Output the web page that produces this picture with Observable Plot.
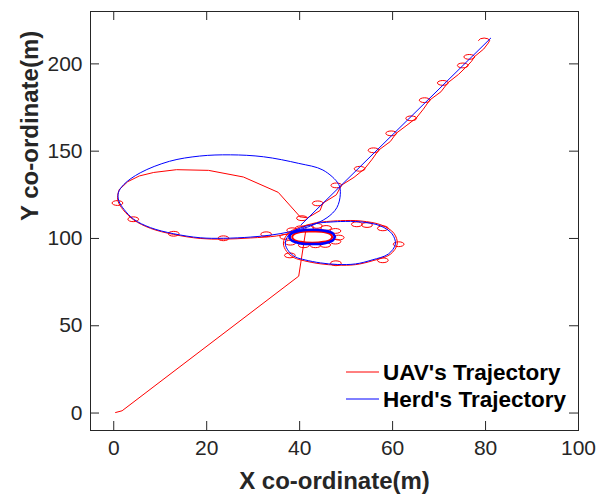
<!DOCTYPE html>
<html>
<head>
<meta charset="utf-8">
<script src="https://cdn.jsdelivr.net/npm/d3@7"></script>
<script src="https://cdn.jsdelivr.net/npm/@observablehq/plot@0.6"></script>
<style>
  html, body { margin: 0; padding: 0; background: #fff; }
  #chart { width: 596px; height: 495px; }
</style>
</head>
<body>
<div id="chart"></div>
<script>
// Axis ticks
const xTicks = [0, 20, 40, 60, 80, 100];
const yTicks = [0, 50, 100, 150, 200];

// Herd trajectory (m)
const herdSmallLoop = [
  [47.6, 100.9], [47.1, 103.0], [45.4, 104.4], [42.7, 105.0], [40.0, 104.4], [38.3, 103.0],
  [37.8, 100.9], [38.3, 98.8], [40.0, 97.3], [42.7, 96.8], [45.4, 97.3], [47.1, 98.8], [47.6, 100.9]
];
const herdRightLoop = [
  [44.0, 108.9], [40.2, 106.0], [38.0, 103.1], [36.9, 97.4], [37.6, 92.8], [39.1, 89.4],
  [41.2, 87.7], [44.5, 86.0], [48.1, 85.1], [52.0, 85.4], [55.6, 87.7], [59.1, 91.1],
  [60.6, 96.8], [59.9, 102.6], [57.4, 107.2], [53.1, 109.5], [48.8, 109.7], [44.0, 108.9]
];
const herdBigLoop = [
  [40.5, 105.5], [37.5, 103.6], [34.0, 102.0], [29.5, 100.8], [23.6, 100.1], [18.6, 100.4],
  [12.9, 102.7], [7.9, 106.2], [4.3, 111.0], [2.2, 116.7], [1.1, 121.5], [1.0, 126.2],
  [2.2, 131.0], [5.7, 137.6], [12.0, 144.2], [18.5, 147.2], [25.1, 147.9], [32.2, 146.8],
  [39.8, 143.0], [45.0, 139.2], [48.4, 131.0], [48.75, 125.3], [48.0, 117.6], [45.9, 111.9],
  [42.3, 107.1], [40.5, 105.5]
];
const herdLine = [[40.3, 107.8], [81.1, 214.7]];

// UAV trajectory (m)
const uavApproach = [[0.4, 0.3], [1.8, 1.3], [39.8, 78.4], [41.3, 104.2]];
const uavSmallLoop = [
  [42.7, 104.2], [45.1, 103.7], [46.6, 102.5], [47.0, 100.9], [46.6, 99.3], [45.1, 98.1],
  [42.7, 97.6], [40.3, 98.1], [38.8, 99.3], [38.4, 100.9], [38.8, 102.5], [40.3, 103.7], [42.7, 104.2]
];
const uavRightLoop = [
  [44.0, 109.3], [40.0, 106.4], [37.6, 103.2], [36.5, 97.4], [37.2, 92.5], [38.8, 89.0],
  [41.0, 87.2], [44.4, 85.5], [48.1, 84.7], [52.0, 85.0], [55.8, 87.3], [59.5, 90.9],
  [61.0, 96.8], [60.3, 102.9], [57.7, 107.6], [53.2, 110.0], [48.8, 110.2], [44.0, 109.3]
];
const uavBigLoop = [
  [38.5, 103.4], [35.0, 101.4], [29.5, 100.3], [23.6, 99.6], [18.6, 100.0], [12.9, 102.3],
  [7.9, 105.8], [4.3, 110.6], [2.0, 116.5], [0.9, 121.5], [0.9, 125.5], [1.2, 128.0]
];
const uavShortcut = [
  [1.2, 128.0], [3.0, 132.5], [5.5, 135.8], [8.6, 137.8], [13.5, 139.4], [20.4, 139.0],
  [27.9, 135.2], [35.4, 126.4], [40.1, 112.4]
];
const uavLine = [
  [40.1, 112.4], [41.7, 111.8], [44.4, 116.0], [45.0, 120.2], [47.9, 125.0], [49.0, 130.5],
  [51.7, 135.0], [54.0, 140.0], [55.5, 145.0], [57.0, 150.6], [59.5, 155.5], [60.8, 160.3],
  [62.9, 164.5], [65.1, 169.0], [66.6, 174.0], [68.0, 179.3], [70.4, 184.0], [71.9, 189.2],
  [74.2, 194.0], [76.2, 199.2], [77.0, 201.5], [77.6, 204.1], [79.6, 208.5], [80.6, 212.0],
  [80.9, 213.4], [80.5, 214.4], [79.7, 214.8], [78.9, 214.4], [78.5, 213.4]
];

// UAV loiter circles (centres, m)
const loiterSmallLoop = [
  [38.4, 104.7], [40.2, 105.8], [41.9, 106.2], [43.7, 107.2], [45.7, 106.0], [47.7, 104.3],
  [48.4, 100.5], [47.7, 98.2], [45.5, 96.3], [43.4, 96.1], [40.9, 96.1], [38.0, 97.6], [36.9, 100.9]
];
const loiterRightLoop = [
  [52.3, 108.1], [54.5, 107.7], [57.9, 105.8], [61.3, 96.7], [57.9, 87.5], [47.8, 85.8], [37.9, 90.3]
];
const loiterBigLoop = [[0.8, 120.3], [4.2, 111.0], [12.9, 102.7], [23.6, 100.1], [32.8, 102.4]];
const loiterLine = [
  [40.5, 111.6], [43.9, 120.1], [47.9, 130.4], [52.9, 139.9], [55.9, 150.5], [59.7, 160.2],
  [64.0, 168.8], [66.9, 179.2], [70.8, 189.1], [75.1, 199.1], [76.5, 204.0]
];

const seriesNames = ["UAV's Trajectory", "Herd's Trajectory"];
const uavColor = "#ff0000";
const herdColor = "#0000ff";
const ink = "#262626";
const font = "'Liberation Sans', Arial, Helvetica, sans-serif";

const W = 596, H = 495;
const margin = {top: 11, right: 18, bottom: 65, left: 90};
const frameW = W - margin.left - margin.right;
const frameH = H - margin.top - margin.bottom;
const tickLen = 9;

// Small horizontal ellipse drawn at each loiter centre
const loiterSymbol = {
  draw(context) {
    const rx = 5.4, ry = 2.4, k = 0.5523;
    context.moveTo(rx, 0);
    context.bezierCurveTo(rx, ry * k, rx * k, ry, 0, ry);
    context.bezierCurveTo(-rx * k, ry, -rx, ry * k, -rx, 0);
    context.bezierCurveTo(-rx, -ry * k, -rx * k, -ry, 0, -ry);
    context.bezierCurveTo(rx * k, -ry, rx, -ry * k, rx, 0);
    context.closePath();
  }
};

const X = d => d[0], Y = d => d[1];
const path = (data, stroke, extra = {}) =>
  Plot.line(data, {x: X, y: Y, stroke, strokeWidth: 1, ...extra});
const loiter = data =>
  Plot.dot(data, {x: X, y: Y, symbol: loiterSymbol, stroke: uavColor, fill: "none", strokeWidth: 1});

const chart = Plot.plot({
  width: W,
  height: H,
  marginTop: margin.top,
  marginRight: margin.right,
  marginBottom: margin.bottom,
  marginLeft: margin.left,
  style: {fontFamily: font, color: ink, background: "#fff", overflow: "visible"},
  x: {domain: [-5, 100]},
  y: {domain: [-10, 230]},
  marks: [
    // UAV path
    path(uavApproach, uavColor),
    path(uavSmallLoop, uavColor, {curve: "catmull-rom", strokeWidth: 2}),
    path(uavRightLoop, uavColor, {curve: "catmull-rom"}),
    path(uavBigLoop, uavColor, {curve: "catmull-rom"}),
    path(uavShortcut, uavColor),
    path(uavLine, uavColor),
    loiter(loiterSmallLoop),
    loiter(loiterRightLoop),
    loiter(loiterBigLoop),
    loiter(loiterLine),
    // Herd path
    path(herdSmallLoop, herdColor, {curve: "catmull-rom", strokeWidth: 2.6}),
    path(herdRightLoop, herdColor, {curve: "catmull-rom"}),
    path(herdBigLoop, herdColor, {curve: "catmull-rom"}),
    path(herdLine, herdColor),
    // Box and inward ticks on all four sides
    Plot.frame({stroke: ink, strokeWidth: 1}),
    Plot.ruleX(xTicks, {stroke: ink, insetTop: frameH - tickLen}),
    Plot.ruleX(xTicks, {stroke: ink, insetBottom: frameH - tickLen}),
    Plot.ruleY(yTicks, {stroke: ink, insetRight: frameW - tickLen}),
    Plot.ruleY(yTicks, {stroke: ink, insetLeft: frameW - tickLen}),
    Plot.axisX({ticks: xTicks, tickSize: 0, tickPadding: 10, fontSize: 21, label: null}),
    Plot.axisY({ticks: yTicks, tickSize: 0, tickPadding: 8, fontSize: 21, label: null}),
    Plot.text(["X co-ordinate(m)"], {frameAnchor: "bottom", dy: 58, fontSize: 24, fontWeight: "bold", fill: ink}),
    Plot.text(["Y co-ordinate(m)"], {frameAnchor: "left", dx: -60, rotate: -90, fontSize: 24, fontWeight: "bold", fill: ink})
  ]
});

// Legend in the lower-right corner of the axes
const legend = d3.select(chart).append("g")
  .attr("font-family", font)
  .attr("font-weight", "bold")
  .attr("font-size", 22.5)
  .attr("text-anchor", "start")
  .attr("fill", "#000");
const legendX = margin.left + frameW - 232;
const legendY = margin.top + frameH - 58;
[uavColor, herdColor].forEach((c, i) => {
  const y = legendY + i * 27;
  legend.append("line")
    .attr("x1", legendX).attr("x2", legendX + 33)
    .attr("y1", y).attr("y2", y)
    .attr("stroke", c).attr("stroke-width", 1);
  legend.append("text")
    .attr("x", legendX + 37).attr("y", y + 8)
    .text(seriesNames[i]);
});

document.getElementById("chart").appendChild(chart);
</script>
</body>
</html>
